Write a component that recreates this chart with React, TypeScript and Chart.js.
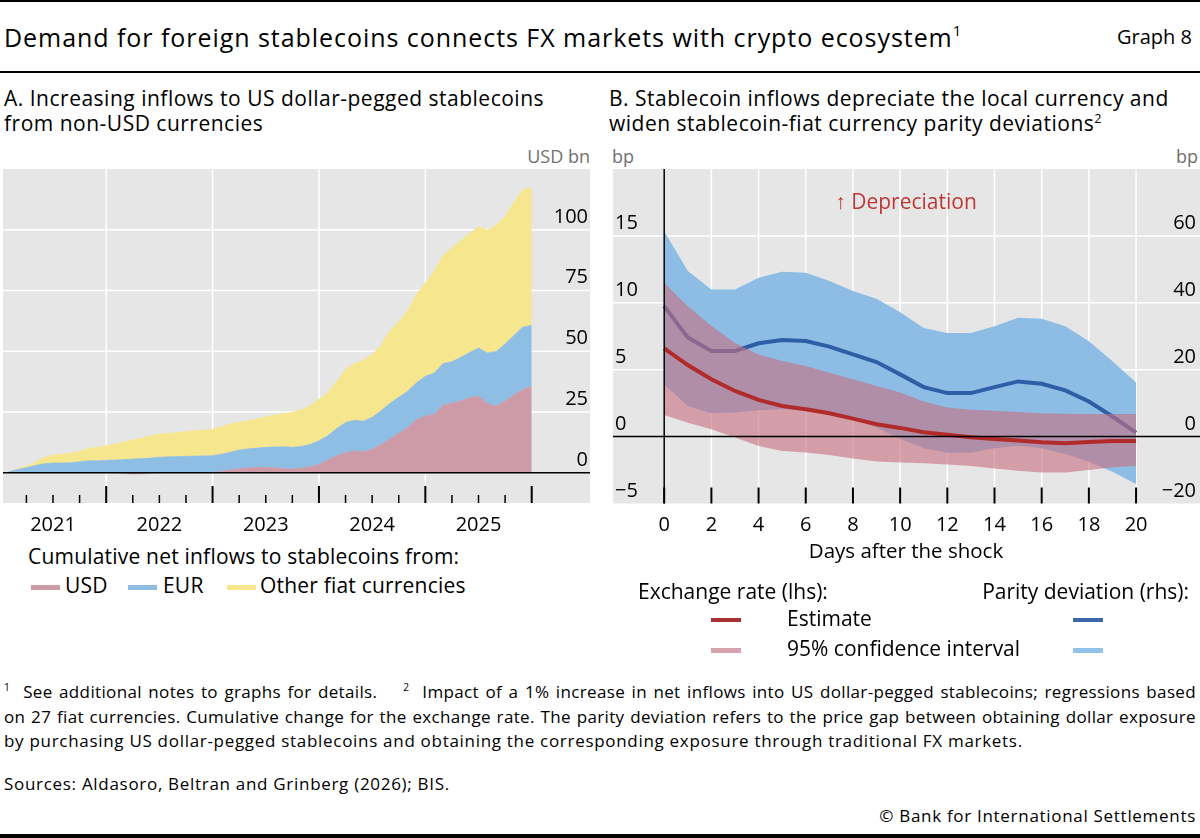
import React, { useEffect, useRef } from 'react';
import { Chart, registerables } from 'chart.js';

Chart.register(...registerables);

const FONT = '"Open Sans", "Noto Sans", sans-serif';

// ---------- Panel A data ----------
const YEARS = [2021, 2022, 2023, 2024, 2025];
const MONTHS: string[] = [];
YEARS.forEach((y) => {
  for (let m = 1; m <= 12; m++) MONTHS.push(`${y}-${m < 10 ? '0' + m : m}`);
});
const USD = [
  0, 0, 0, 0, 0, 0, 0, 0, 0, 0, 0, 0,
  0, -0.3, -0.6, -0.5, -0.2, 0, 0, 0, 0, 0, 0, 0,
  0.5, 1.2, 1.6, 2.0, 2.2, 2.2, 2.0, 1.7, 1.5, 1.8, 2.4, 3.3,
  5.2, 7.0, 8.3, 8.9, 8.6, 9.6, 11.5, 13.8, 16.2, 18.5, 21.9, 23.3,
  23.9, 27.8, 28.6, 29.5, 30.8, 31.5, 28.5, 27.4, 29.5, 32.0, 34.2, 35.6,
];
const EUR = [
  0.4, 1.3, 2.1, 2.9, 3.7, 4.0, 4.0, 4.1, 4.5, 4.9, 4.9, 5.1,
  5.2, 5.4, 5.6, 5.8, 6.0, 6.3, 6.5, 6.6, 6.7, 6.8, 6.9, 7.0,
  7.1, 7.2, 7.7, 7.8, 7.9, 8.2, 8.6, 9.0, 9.0, 9.0, 9.2, 9.8,
  10.0, 11.2, 12.3, 12.7, 12.6, 13.2, 14.0, 14.7, 14.8, 15.0, 15.1, 16.4,
  17.1, 17.1, 17.1, 18.0, 18.7, 19.8, 20.8, 22.5, 23.5, 24.5, 25.8, 25.0,
];
const OTHER = [
  0.1, 0.3, 0.7, 1.4, 2.5, 3.3, 3.6, 3.9, 4.3, 5.1, 5.6, 6.0,
  6.6, 7.2, 7.8, 8.5, 9.1, 9.6, 9.7, 9.9, 10.2, 10.5, 10.7, 10.9,
  11.3, 11.6, 11.4, 11.5, 12.0, 12.6, 13.1, 13.6, 14.4, 15.0, 15.9, 17.1,
  17.8, 19.3, 21.9, 23.2, 25.1, 25.7, 27.0, 30.0, 31.0, 33.0, 36.5, 38.3,
  42.0, 44.6, 46.8, 48.0, 49.0, 49.9, 50.5, 51.9, 52.5, 55.0, 56.5, 56.8,
];
const A_YTICKS = [0, 25, 50, 75, 100];

// ---------- Panel B data ----------
const DAYS = [0, 1, 2, 3, 4, 5, 6, 7, 8, 9, 10, 11, 12, 13, 14, 15, 16, 17, 18, 19, 20];
const DAY_TICKS = [0, 2, 4, 6, 8, 10, 12, 14, 16, 18, 20];
const ER_EST = [6.6, 5.35, 4.28, 3.41, 2.74, 2.29, 2.04, 1.74, 1.34, 0.92, 0.65, 0.33, 0.13, -0.05, -0.18, -0.3, -0.43, -0.5, -0.4, -0.33, -0.33];
const ER_UP = [11.5, 9.75, 8.26, 7.0, 6.14, 5.65, 5.27, 4.78, 4.28, 3.78, 3.3, 2.63, 2.18, 2.0, 1.93, 1.83, 1.75, 1.7, 1.68, 1.68, 1.68];
const ER_LO = [1.62, 1.04, 0.55, -0.07, -0.7, -1.07, -1.19, -1.37, -1.64, -1.87, -1.94, -2.0, -2.08, -2.2, -2.38, -2.55, -2.68, -2.68, -2.5, -2.3, -2.2];
const PD_EST = [39.0, 29.6, 25.6, 25.6, 27.9, 28.9, 28.6, 26.9, 24.6, 22.3, 18.6, 14.8, 13.0, 13.0, 14.8, 16.5, 15.8, 13.8, 10.5, 6.0, 1.2];
const PD_UP = [61.4, 49.5, 44.0, 44.0, 47.5, 49.3, 49.0, 46.5, 43.5, 41.2, 37.2, 32.5, 31.0, 31.0, 33.0, 35.5, 35.2, 33.0, 28.5, 22.5, 16.2];
const PD_LO = [15.6, 9.15, 7.0, 7.2, 7.9, 8.2, 7.9, 7.0, 5.2, 2.7, -0.7, -3.5, -4.8, -4.8, -3.5, -2.7, -3.5, -5.2, -7.5, -10.5, -14.2];
const LHS_TICKS = [-5, 0, 5, 10, 15];
const RHS_TICKS = [-20, 0, 20, 40, 60];

// ---------- Styles ----------
const GRAY = '#e6e6e6';
const C_USD = '#cd9ba8';
const C_EUR = '#8ebee3';
const C_OTH = '#f6e78f';
const RED = '#b22b2b';
const BLUE = '#2e5fa6';
const BLUE_CI = '#8dbde4';
const PINK_CI = 'rgba(200,110,128,0.6)';
const LABEL_GRAY = '#707070';

const fmt = (v: number) => (v < 0 ? '\u2212' + Math.abs(v) : String(v));
const monthX = (s: string) => {
  const [y, m] = s.split('-').map(Number);
  return y + m / 12;
};

function seg(ctx: CanvasRenderingContext2D, x1: number, y1: number, x2: number, y2: number) {
  ctx.beginPath();
  ctx.moveTo(x1, y1);
  ctx.lineTo(x2, y2);
  ctx.stroke();
}

const panelAPlugin = {
  id: 'panelA',
  beforeDatasetsDraw(chart: any) {
    const { ctx, chartArea: a, scales } = chart;
    const x = scales.x, y = scales.y;
    ctx.save();
    ctx.fillStyle = GRAY;
    ctx.fillRect(a.left, a.top, a.right - a.left, a.bottom - a.top);
    ctx.strokeStyle = '#ffffff';
    ctx.lineWidth = 1.5;
    YEARS.slice(1).forEach((yr) => {
      const px = x.getPixelForValue(yr);
      seg(ctx, px, a.top, px, a.bottom);
    });
    A_YTICKS.filter((v) => v !== 0).forEach((v) => {
      const py = y.getPixelForValue(v);
      seg(ctx, a.left, py, a.right, py);
    });
    ctx.restore();
  },
  afterDatasetsDraw(chart: any) {
    const { ctx, chartArea: a, scales } = chart;
    const x = scales.x, y = scales.y;
    ctx.save();
    ctx.strokeStyle = '#000';
    ctx.lineWidth = 1.5;
    const y0 = y.getPixelForValue(0);
    seg(ctx, a.left, y0, a.right, y0);
    YEARS.forEach((yr) => {
      const px = x.getPixelForValue(yr + 1);
      ctx.lineWidth = 2;
      seg(ctx, px, a.bottom - 17, px, a.bottom);
      ctx.lineWidth = 1.5;
      [0.25, 0.5, 0.75].forEach((q) => {
        const qx = x.getPixelForValue(yr + q);
        seg(ctx, qx, a.bottom - 8, qx, a.bottom);
      });
    });
    ctx.fillStyle = '#000';
    ctx.font = `20px ${FONT}`;
    ctx.textBaseline = 'alphabetic';
    ctx.textAlign = 'center';
    YEARS.forEach((yr) => {
      ctx.fillText(String(yr), x.getPixelForValue(yr + 0.5), a.bottom + 28);
    });
    ctx.textAlign = 'right';
    A_YTICKS.forEach((v) => {
      ctx.fillText(fmt(v), 588, y.getPixelForValue(v) - 7);
    });
    ctx.restore();
  },
};

const panelBPlugin = {
  id: 'panelB',
  beforeDatasetsDraw(chart: any) {
    const { ctx, chartArea: a, scales } = chart;
    const x = scales.x, y = scales.y;
    ctx.save();
    ctx.fillStyle = GRAY;
    ctx.fillRect(a.left, a.top, a.right - a.left, a.bottom - a.top);
    ctx.strokeStyle = '#ffffff';
    ctx.lineWidth = 1.5;
    DAY_TICKS.filter((d) => d !== 0).forEach((d) => {
      const px = x.getPixelForValue(d);
      seg(ctx, px, a.top, px, a.bottom);
    });
    LHS_TICKS.filter((v) => v > 0).forEach((v) => {
      const py = y.getPixelForValue(v);
      seg(ctx, a.left, py, a.right, py);
    });
    ctx.restore();
  },
  afterDatasetsDraw(chart: any) {
    const { ctx, chartArea: a, scales } = chart;
    const x = scales.x, y = scales.y, y2 = scales.y2;
    ctx.save();
    ctx.strokeStyle = '#000';
    ctx.lineWidth = 1.5;
    const y0 = y.getPixelForValue(0);
    seg(ctx, a.left, y0, a.right, y0);
    const x0 = x.getPixelForValue(0);
    seg(ctx, x0, a.top, x0, a.bottom);
    ctx.lineWidth = 2;
    DAY_TICKS.forEach((d) => {
      const px = x.getPixelForValue(d);
      seg(ctx, px, a.bottom - 16, px, a.bottom);
    });
    ctx.fillStyle = '#000';
    ctx.font = `20px ${FONT}`;
    ctx.textBaseline = 'alphabetic';
    ctx.textAlign = 'center';
    DAY_TICKS.forEach((d) => {
      ctx.fillText(String(d), x.getPixelForValue(d), a.bottom + 27.5);
    });
    ctx.textAlign = 'left';
    LHS_TICKS.forEach((v) => {
      ctx.fillText(fmt(v), 15, y.getPixelForValue(v) - 7);
    });
    ctx.textAlign = 'right';
    RHS_TICKS.forEach((v) => {
      ctx.fillText(fmt(v), 596, y2.getPixelForValue(v) - 7);
    });
    ctx.restore();
  },
};

function PanelA() {
  const ref = useRef<HTMLCanvasElement>(null);
  useEffect(() => {
    const xy = (arr: number[]) => arr.map((v, i) => ({ x: monthX(MONTHS[i]), y: v }));
    const area = (label: string, arr: number[], color: string, fill: any) => ({
      label,
      data: xy(arr),
      backgroundColor: color,
      borderColor: color,
      borderWidth: 0.6,
      pointRadius: 0,
      tension: 0,
      fill,
    });
    const chart = new Chart(ref.current!, {
      type: 'line',
      data: {
        datasets: [
          area('USD', USD, C_USD, 'origin'),
          area('EUR', EUR, C_EUR, '-1'),
          area('Other fiat currencies', OTHER, C_OTH, '-1'),
        ] as any,
      },
      options: {
        animation: false,
        responsive: false,
        events: [],
        layout: { padding: { left: 3, right: 10, top: 29, bottom: 37 } },
        plugins: { legend: { display: false }, tooltip: { enabled: false } },
        scales: {
          x: { type: 'linear', min: 2021.03, max: 2026.548, display: false },
          y: { stacked: true, min: -12.5, max: 125, display: false },
        },
      },
      plugins: [panelAPlugin],
    } as any);
    return () => chart.destroy();
  }, []);
  return <canvas ref={ref} width={600} height={400} style={{ position: 'absolute', left: 0, top: 140, width: 600, height: 400 }} />;
}

function PanelB() {
  const ref = useRef<HTMLCanvasElement>(null);
  useEffect(() => {
    const xy = (arr: number[]) => arr.map((v, i) => ({ x: DAYS[i], y: v }));
    const base = { pointRadius: 0, tension: 0 };
    const chart = new Chart(ref.current!, {
      type: 'line',
      data: {
        datasets: [
          { ...base, label: 'Parity CI upper', data: xy(PD_UP), yAxisID: 'y2', fill: '+1', backgroundColor: BLUE_CI, borderColor: 'transparent', borderWidth: 0, order: 6 },
          { ...base, label: 'Parity CI lower', data: xy(PD_LO), yAxisID: 'y2', fill: false, borderColor: 'transparent', borderWidth: 0, order: 5 },
          { ...base, label: 'Parity estimate', data: xy(PD_EST), yAxisID: 'y2', fill: false, borderColor: BLUE, borderWidth: 4, order: 4 },
          { ...base, label: 'FX CI upper', data: xy(ER_UP), yAxisID: 'y', fill: '+1', backgroundColor: PINK_CI, borderColor: 'transparent', borderWidth: 0, order: 3 },
          { ...base, label: 'FX CI lower', data: xy(ER_LO), yAxisID: 'y', fill: false, borderColor: 'transparent', borderWidth: 0, order: 2 },
          { ...base, label: 'FX estimate', data: xy(ER_EST), yAxisID: 'y', fill: false, borderColor: RED, borderWidth: 4, order: 1 },
        ] as any,
      },
      options: {
        animation: false,
        responsive: false,
        events: [],
        layout: { padding: { left: 13, right: 0, top: 29, bottom: 76.5 } },
        plugins: { legend: { display: false }, tooltip: { enabled: false } },
        scales: {
          x: { type: 'linear', min: -2.17, max: 22.71, display: false },
          y: { min: -5, max: 20, display: false },
          y2: { min: -20, max: 80, display: false, position: 'right' },
        },
      },
      plugins: [panelBPlugin],
    } as any);
    return () => chart.destroy();
  }, []);
  return <canvas ref={ref} width={600} height={440} style={{ position: 'absolute', left: 600, top: 140, width: 600, height: 440 }} />;
}

type TProps = { x: number; y: number; size?: number; ls?: number; color?: string; align?: 'left' | 'right' | 'center'; children: React.ReactNode; style?: React.CSSProperties };
function T({ x, y, size = 20, ls = 0, color = '#000', align = 'left', children, style }: TProps) {
  const s: React.CSSProperties = {
    position: 'absolute',
    top: y - 0.74 * size,
    fontSize: size,
    letterSpacing: ls,
    color,
    whiteSpace: 'nowrap',
    lineHeight: 'normal',
    fontFamily: FONT,
    ...style,
  };
  if (align === 'left') s.left = x;
  else if (align === 'right') s.right = 1200 - x;
  else {
    s.left = x;
    s.transform = 'translateX(-50%)';
  }
  return <div style={s}>{children}</div>;
}

const Sup = ({ children }: { children: React.ReactNode }) => (
  <span style={{ fontSize: '0.6em', position: 'relative', top: '-0.7em' }}>{children}</span>
);

const Swatch = ({ x, y, w, h, color }: { x: number; y: number; w: number; h: number; color: string }) => (
  <div style={{ position: 'absolute', left: x, top: y - h / 2, width: w, height: h, background: color }} />
);

const FN = 17;
const FN_LS = 0.7;
const JUSTIFY: React.CSSProperties = { width: 1192, textAlign: 'justify', textAlignLast: 'justify' as any };

export default function App() {
  return (
    <div style={{ position: 'absolute', left: 0, top: 0, width: 1200, height: 838, background: '#fff', overflow: 'hidden', fontFamily: FONT }}>
      <div style={{ position: 'absolute', left: 0, top: 0, width: 1200, height: 2, background: '#000' }} />
      <T x={4} y={38} size={25} ls={0.95}>
        Demand for foreign stablecoins connects FX markets with crypto ecosystem<Sup>1</Sup>
      </T>
      <T x={1192} y={38} size={20} align="right">Graph 8</T>
      <div style={{ position: 'absolute', left: 0, top: 71, width: 1200, height: 1.5, background: '#000' }} />

      <T x={4} y={100} size={21} ls={0.5}>A. Increasing inflows to US dollar-pegged stablecoins</T>
      <T x={4} y={125} size={21} ls={0.5}>from non-USD currencies</T>
      <T x={590} y={157} size={18} color={LABEL_GRAY} align="right">USD bn</T>

      <T x={609} y={100} size={21} ls={0.5}>B. Stablecoin inflows depreciate the local currency and</T>
      <T x={609} y={125} size={21} ls={0.5}>widen stablecoin-fiat currency parity deviations<Sup>2</Sup></T>
      <T x={612} y={157} size={18} color={LABEL_GRAY}>bp</T>
      <T x={1198} y={157} size={18} color={LABEL_GRAY} align="right">bp</T>

      <PanelA />
      <PanelB />

      <T x={906} y={203} size={21} color="#bf3636" align="center">↑ Depreciation</T>
      <T x={906} y={551} size={20.5} align="center">Days after the shock</T>

      {/* Legend A */}
      <T x={28} y={558} size={21} ls={0.2}>Cumulative net inflows to stablecoins from:</T>
      <Swatch x={31} y={587} w={29} h={5} color={C_USD} />
      <T x={65} y={587} size={21} ls={0.2}>USD</T>
      <Swatch x={128} y={587} w={29} h={5} color={C_EUR} />
      <T x={163} y={587} size={21} ls={0.2}>EUR</T>
      <Swatch x={227} y={587} w={29} h={5} color={C_OTH} />
      <T x={260} y={587} size={21} ls={0.2}>Other fiat currencies</T>

      {/* Legend B */}
      <T x={638} y={593} size={21}>Exchange rate (lhs):</T>
      <T x={1189} y={593} size={21} align="right">Parity deviation (rhs):</T>
      <Swatch x={711} y={620} w={30} h={4} color="#a83232" />
      <T x={787} y={620} size={21}>Estimate</T>
      <Swatch x={1073} y={620} w={30} h={4} color="#3d68a8" />
      <Swatch x={711} y={650} w={30} h={5} color="#d6a3ae" />
      <T x={787} y={650} size={21}>95% confidence interval</T>
      <Swatch x={1073} y={650} w={30} h={5} color="#92c3ea" />

      {/* Footnotes */}
      <T x={4} y={693} size={FN} ls={0.35} style={JUSTIFY}>
        <Sup>1</Sup>&nbsp; See additional notes to graphs for details.&nbsp;&nbsp;&nbsp; <Sup>2</Sup>&nbsp; Impact of a 1% increase in net inflows into US dollar-pegged stablecoins; regressions based
      </T>
      <T x={4} y={718} size={FN} ls={0.35} style={JUSTIFY}>
        on 27 fiat currencies. Cumulative change for the exchange rate. The parity deviation refers to the price gap between obtaining dollar exposure
      </T>
      <T x={4} y={742} size={FN} ls={FN_LS}>
        by purchasing US dollar-pegged stablecoins and obtaining the corresponding exposure through traditional FX markets.
      </T>
      <T x={4} y={785} size={FN} ls={FN_LS}>Sources: Aldasoro, Beltran and Grinberg (2026); BIS.</T>
      <T x={1196} y={817} size={FN} ls={FN_LS} align="right">© Bank for International Settlements</T>
      <div style={{ position: 'absolute', left: 0, top: 834, width: 1200, height: 4, background: '#000' }} />
    </div>
  );
}
